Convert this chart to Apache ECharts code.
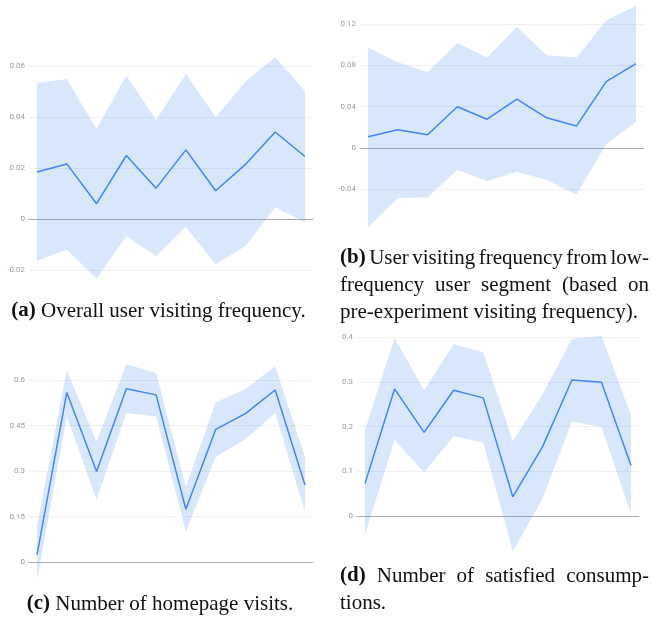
<!DOCTYPE html>
<html>
<head>
<meta charset="utf-8">
<script src="https://cdn.jsdelivr.net/npm/echarts@6/dist/echarts.min.js"></script>
<style>
  html, body { margin: 0; padding: 0; background: #fff; }
  #chart { width: 652px; height: 622px; }
</style>
</head>
<body>
<div id="chart"></div>
<script>
// Experiment days on the horizontal axis
const days = [1, 2, 3, 4, 5, 6, 7, 8, 9, 10];

// (a) Overall user visiting frequency: mean effect and confidence band
const overallMean  = [0.0184, 0.0216, 0.0060, 0.0249, 0.0121, 0.0271, 0.0111, 0.0214, 0.0341, 0.0245];
const overallUpper = [0.0533, 0.0549, 0.0353, 0.0563, 0.0388, 0.0569, 0.0400, 0.0538, 0.0635, 0.0502];
const overallLower = [-0.0164, -0.0121, -0.0233, -0.0068, -0.0146, -0.0031, -0.0177, -0.0107, 0.0046, -0.0013];

// (b) Low-frequency user segment
const lowFreqMean  = [0.0106, 0.0174, 0.0126, 0.0397, 0.0277, 0.0471, 0.0290, 0.0210, 0.0642, 0.0816];
const lowFreqUpper = [0.0971, 0.0829, 0.0732, 0.1016, 0.0874, 0.1171, 0.0897, 0.0874, 0.1235, 0.1377];
const lowFreqLower = [-0.0771, -0.0487, -0.0481, -0.0216, -0.0323, -0.0232, -0.0313, -0.0455, 0.0035, 0.0252];

// (c) Number of homepage visits
const visitsMean  = [0.024, 0.559, 0.298, 0.571, 0.551, 0.174, 0.437, 0.489, 0.567, 0.254];
const visitsUpper = [0.121, 0.631, 0.397, 0.652, 0.623, 0.248, 0.526, 0.570, 0.645, 0.347];
const visitsLower = [-0.061, 0.480, 0.204, 0.491, 0.480, 0.099, 0.347, 0.405, 0.491, 0.165];

// (d) Number of satisfied consumptions
const consumpMean  = [0.0724, 0.284, 0.187, 0.281, 0.264, 0.0429, 0.154, 0.304, 0.299, 0.113];
const consumpUpper = [0.193, 0.398, 0.281, 0.384, 0.366, 0.167, 0.271, 0.396, 0.402, 0.225];
const consumpLower = [-0.042, 0.170, 0.098, 0.178, 0.164, -0.079, 0.038, 0.211, 0.199, 0.005];

// y-axis tick settings per panel: [min, max, interval]
const yTicksA = [-0.02, 0.06, 0.02];
const yTicksB = [-0.04, 0.12, 0.04];
const yTicksC = [0, 0.6, 0.15];
const yTicksD = [0, 0.4, 0.1];

const LINE_BLUE = '#4285f4';
const BAND_FILL = 'rgba(66,133,244,0.2)';

const grids = [], xAxes = [], yAxes = [], series = [];

function addPanel(idx, box, ticks, mean, upper, lower) {
  grids.push(Object.assign({ containLabel: false }, box));
  xAxes.push({
    type: 'value', gridIndex: idx, min: 0.73, max: 10.27,
    axisLine: { show: true, onZero: true, lineStyle: { color: '#ababab', width: 1 } },
    axisTick: { show: false }, axisLabel: { show: false }, splitLine: { show: false }
  });
  yAxes.push({
    type: 'value', gridIndex: idx, min: ticks[0], max: ticks[1], interval: ticks[2],
    axisLine: { show: false }, axisTick: { show: false },
    axisLabel: { fontSize: 8, color: '#9a9a9a', margin: 4, fontFamily: 'Roboto' },
    splitLine: { lineStyle: { color: '#f0f0f0', width: 1 } }
  });
  // Confidence band: one polygon running along the upper bound and back along the lower bound
  series.push({
    type: 'custom', xAxisIndex: idx, yAxisIndex: idx, silent: true, z: 1,
    data: days.map((d, k) => [d, lower[k], upper[k]]),
    renderItem: function (params, api) {
      if (params.dataIndex !== 0) return null;
      const pts = [];
      for (let k = 0; k < days.length; k++) pts.push(api.coord([days[k], upper[k]]));
      for (let k = days.length - 1; k >= 0; k--) pts.push(api.coord([days[k], lower[k]]));
      return { type: 'polygon', shape: { points: pts }, style: { fill: BAND_FILL } };
    }
  });
  series.push({
    type: 'line', xAxisIndex: idx, yAxisIndex: idx,
    data: days.map((d, k) => [d, mean[k]]),
    symbol: 'none', lineStyle: { color: LINE_BLUE, width: 1.5 }, silent: true, clip: false, z: 3
  });
}

addPanel(0, { left: 29, top: 66, width: 284, height: 204 }, yTicksA, overallMean, overallUpper, overallLower);
addPanel(1, { left: 360, top: 24, width: 284, height: 165 }, yTicksB, lowFreqMean, lowFreqUpper, lowFreqLower);
addPanel(2, { left: 29, top: 380, width: 284, height: 182 }, yTicksC, visitsMean, visitsUpper, visitsLower);
addPanel(3, { left: 357, top: 337, width: 282, height: 179 }, yTicksD, consumpMean, consumpUpper, consumpLower);

// Sub-figure captions, laid out word by word so justified lines fill their column
const CAP_FAMILY = '"Liberation Serif", "Times New Roman", serif';
const CAP_SIZE = 21;
const measureCtx = document.createElement('canvas').getContext('2d');
function wordWidth(text, bold) {
  measureCtx.font = (bold ? 'bold ' : '') + CAP_SIZE + 'px ' + CAP_FAMILY;
  return measureCtx.measureText(text).width;
}

const captionLines = [
  { x: 5, y: 311, width: 307, align: 'center', parts: [['(a)', true], ['Overall user visiting frequency.', false]] },
  { x: 340, y: 258, width: 309, align: 'justify', parts: [['(b)', true], ['User visiting frequency from low-', false]] },
  { x: 340, y: 285, width: 309, align: 'justify', parts: [['frequency user segment (based on', false]] },
  { x: 340, y: 312, width: 309, align: 'left', parts: [['pre-experiment visiting frequency).', false]] },
  { x: 22, y: 604, width: 276, align: 'center', parts: [['(c)', true], ['Number of homepage visits.', false]] },
  { x: 340, y: 576, width: 309, align: 'justify', parts: [['(d)', true], ['Number of satisfied consump-', false]] },
  { x: 340, y: 603, width: 309, align: 'left', parts: [['tions.', false]] }
];

const graphics = [];
captionLines.forEach(line => {
  const words = [];
  line.parts.forEach(([txt, bold]) => {
    txt.split(' ').filter(Boolean).forEach(w => words.push({ text: w, bold: bold, w: wordWidth(w, bold) }));
  });
  const space = wordWidth(' ', false);
  const total = words.reduce((s, w) => s + w.w, 0);
  let gap = space;
  let x = line.x;
  if (line.align === 'justify' && words.length > 1) {
    gap = (line.width - total) / (words.length - 1);
  } else if (line.align === 'center') {
    const natural = total + space * (words.length - 1);
    x = line.x + (line.width - natural) / 2;
  }
  words.forEach(w => {
    graphics.push({
      type: 'text', x: x, y: line.y, silent: true,
      style: {
        text: w.text, fontSize: CAP_SIZE, fontFamily: CAP_FAMILY,
        fontWeight: w.bold ? 'bold' : 'normal', fill: '#111', verticalAlign: 'middle'
      }
    });
    x += w.w + gap;
  });
});

const chart = echarts.init(document.getElementById('chart'), null, { renderer: 'canvas' });
chart.setOption({
  animation: false,
  backgroundColor: '#fff',
  grid: grids,
  xAxis: xAxes,
  yAxis: yAxes,
  series: series,
  graphic: graphics
});
</script>
</body>
</html>
